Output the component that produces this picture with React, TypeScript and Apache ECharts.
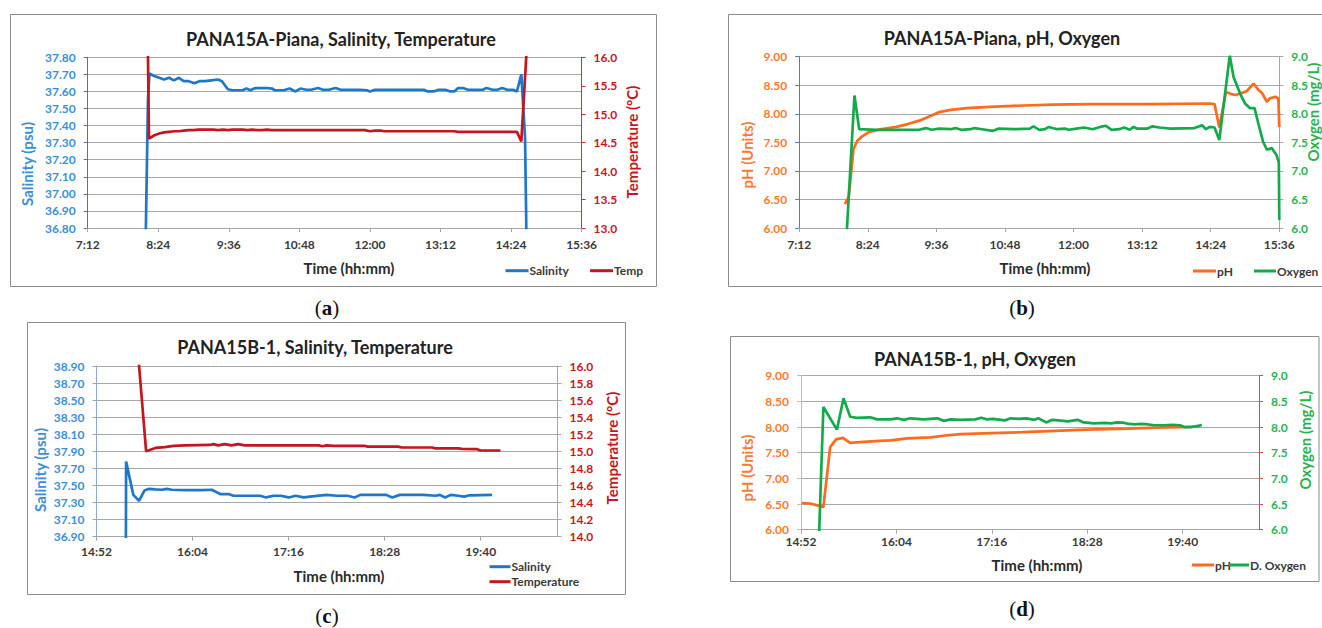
import React, { useEffect, useRef } from "react";
import * as echarts from "echarts";

// ---------- DATA (time = minutes after midnight, value) ----------
// Panel (a) PANA15A-Piana, salinity (psu) & temperature (°C)
const aSalinity: number[][] = [
  [490.5, 36.5], [493.5, 37.55], [495, 37.705], [500, 37.69], [505, 37.68], [510, 37.67], [515, 37.68],
  [520, 37.665], [525, 37.68], [530, 37.66], [535, 37.66], [541, 37.648], [546, 37.66], [552, 37.66],
  [558, 37.665], [565, 37.67], [569, 37.66], [575, 37.613], [580, 37.607], [585, 37.607], [590, 37.607],
  [594, 37.617], [598, 37.607], [603, 37.62], [608, 37.62], [615, 37.62], [620, 37.617], [623, 37.607],
  [632, 37.607], [638, 37.617], [644, 37.60], [649, 37.617], [655, 37.61], [660, 37.61], [667, 37.62],
  [672, 37.61], [678, 37.61], [685, 37.62], [690, 37.61], [700, 37.61], [710, 37.61], [717, 37.607],
  [720, 37.60], [725, 37.61], [735, 37.61], [745, 37.61], [755, 37.61], [765, 37.61], [775, 37.61],
  [779, 37.60], [785, 37.60], [790, 37.61], [797, 37.61], [802, 37.60], [806, 37.60], [810, 37.62],
  [815, 37.62], [820, 37.61], [830, 37.61], [835, 37.61], [839, 37.62], [845, 37.61], [850, 37.61],
  [855, 37.62], [860, 37.61], [866, 37.61], [870, 37.60], [874.5, 37.70], [878.3, 37.33], [880.3, 36.5],
];
const aTemp: number[][] = [
  [492.5, 17.5], [494.5, 14.57], [500, 14.63], [505, 14.66], [510, 14.68], [515, 14.69], [520, 14.70],
  [525, 14.70], [530, 14.71], [535, 14.72], [540, 14.72], [545, 14.73], [550, 14.73], [555, 14.73],
  [560, 14.73], [565, 14.72], [570, 14.73], [575, 14.72], [580, 14.73], [585, 14.73], [590, 14.73],
  [595, 14.72], [600, 14.73], [605, 14.72], [610, 14.72], [615, 14.73], [620, 14.72], [630, 14.72],
  [640, 14.72], [650, 14.72], [660, 14.72], [670, 14.72], [680, 14.72], [690, 14.72], [700, 14.72],
  [710, 14.72], [715, 14.72], [720, 14.70], [725, 14.71], [731, 14.71], [735, 14.70], [750, 14.70],
  [765, 14.70], [780, 14.70], [795, 14.70], [806, 14.70], [810, 14.69], [825, 14.69], [840, 14.69],
  [855, 14.69], [870, 14.69], [874.5, 14.52], [880.5, 16.3],
];

// Panel (b) PANA15A-Piana, pH (units) & oxygen (mg/L)
const bPH: number[][] = [
  [480, 6.42], [484, 6.55], [489, 7.38], [493, 7.53], [497, 7.59], [505, 7.68], [517, 7.73], [534, 7.77],
  [546, 7.82], [558, 7.88], [571, 7.97], [579, 8.03], [591, 8.07], [608, 8.10], [632, 8.12], [657, 8.14],
  [698, 8.16], [739, 8.17], [800, 8.17], [863, 8.18], [868, 8.17], [873, 7.76], [880, 8.38], [885, 8.35],
  [890, 8.33], [896, 8.36], [902, 8.40], [909, 8.53], [914, 8.42], [918, 8.36], [923, 8.21], [926, 8.27],
  [932, 8.30], [935, 8.27], [936, 7.77],
];
const bOxygen: number[][] = [
  [482, 5.95], [490, 8.32], [495, 7.73], [513, 7.72], [534, 7.72], [558, 7.72], [565, 7.75], [571, 7.72],
  [579, 7.74], [591, 7.73], [596, 7.75], [602, 7.72], [612, 7.73], [616, 7.75], [624, 7.73], [635, 7.70],
  [641, 7.74], [657, 7.73], [674, 7.74], [678, 7.78], [684, 7.72], [690, 7.73], [694, 7.77], [703, 7.73],
  [711, 7.74], [715, 7.72], [723, 7.74], [731, 7.76], [740, 7.73], [748, 7.77], [754, 7.79], [760, 7.72],
  [768, 7.73], [773, 7.76], [779, 7.72], [783, 7.77], [787, 7.74], [797, 7.74], [803, 7.78], [810, 7.76],
  [822, 7.74], [847, 7.75], [855, 7.80], [859, 7.73], [863, 7.77], [868, 7.76], [873, 7.54], [884, 9.02],
  [888, 8.64], [895, 8.35], [900, 8.18], [905, 8.10], [910, 8.10], [914, 7.83], [919, 7.51], [923, 7.37],
  [928, 7.40], [933, 7.28], [935.5, 7.15], [936, 6.14],
];

// Panel (c) PANA15B-1, salinity (psu) & temperature (°C)
const cSalinity: number[][] = [
  [914.8, 36.7], [915, 37.78], [920.4, 37.39], [924.7, 37.32], [928.7, 37.44], [931.7, 37.46], [936.7, 37.455],
  [941.8, 37.45], [945.5, 37.46], [949.3, 37.45], [959.2, 37.445], [966, 37.445], [972, 37.445],
  [979.3, 37.45], [985.5, 37.40], [991.8, 37.40], [995.5, 37.38], [1005, 37.38], [1015.6, 37.38],
  [1019.9, 37.36], [1025.6, 37.38], [1031, 37.38], [1036.9, 37.36], [1042, 37.38], [1048.1, 37.36],
  [1053, 37.37], [1065.1, 37.39], [1073, 37.38], [1081, 37.38], [1086.3, 37.36], [1090.5, 37.39],
  [1110, 37.39], [1114.5, 37.36], [1120.2, 37.39], [1138, 37.39], [1147, 37.38], [1150.2, 37.39],
  [1154.1, 37.36], [1158.4, 37.39], [1164, 37.38], [1168.3, 37.37], [1172.5, 37.385], [1189.4, 37.39],
];
const cTemp: number[][] = [
  [920, 16.9], [930, 15.0], [937, 15.04], [944, 15.05], [950.5, 15.065], [959, 15.07], [978, 15.075],
  [980.5, 15.085], [984, 15.07], [989, 15.085], [994, 15.07], [999, 15.085], [1004, 15.07], [1059.5, 15.07],
  [1062.3, 15.06], [1065.1, 15.07], [1070.7, 15.065], [1093.4, 15.065], [1096.2, 15.055], [1118.8, 15.055],
  [1121.6, 15.045], [1144.2, 15.045], [1147, 15.035], [1164, 15.035], [1166.8, 15.03], [1178.1, 15.025],
  [1180.9, 15.01], [1195.6, 15.01],
];

// Panel (d) PANA15B-1, pH (units) & dissolved oxygen (mg/L)
const dPH: number[][] = [
  [893.3, 6.52], [899.6, 6.51], [905.9, 6.47], [909.7, 6.44], [914.8, 7.61], [919.3, 7.76], [924.4, 7.79],
  [929.9, 7.69], [940, 7.71], [952.7, 7.73], [960.3, 7.74], [972.9, 7.78], [990.6, 7.80], [1003.2, 7.84],
  [1013.3, 7.86], [1036, 7.88], [1060, 7.90], [1080, 7.92], [1108, 7.95], [1140, 7.97], [1160, 7.99],
  [1180, 8.00], [1194, 8.01],
];
const dOxygen: number[][] = [
  [906.3, 5.8], [909.7, 8.39], [919.9, 7.95], [924.9, 8.56], [929.9, 8.20], [935, 8.18], [945.1, 8.19],
  [950.2, 8.15], [960.3, 8.15], [965.3, 8.17], [970.4, 8.14], [975.4, 8.17], [985.5, 8.15], [995.6, 8.17],
  [1000.6, 8.12], [1005.7, 8.15], [1013.3, 8.14], [1024.3, 8.15], [1028.8, 8.18], [1033.2, 8.15],
  [1037.7, 8.16], [1046.6, 8.13], [1051.1, 8.17], [1057, 8.16], [1063, 8.17], [1068.9, 8.14], [1071.9, 8.17],
  [1077.8, 8.09], [1082.3, 8.14], [1086.8, 8.13], [1094.2, 8.11], [1101.6, 8.14], [1106.1, 8.09],
  [1110.5, 8.08], [1113.5, 8.07], [1122.4, 8.08], [1126.9, 8.07], [1131.3, 8.09], [1135.8, 8.085],
  [1140.3, 8.06], [1144.7, 8.05], [1149.2, 8.06], [1155.1, 8.05], [1159.6, 8.035], [1167, 8.035],
  [1173, 8.045], [1178.9, 8.035], [1181.9, 8.0], [1187.8, 8.0], [1195.3, 8.04],
];

// Axis ranges (time axis start in minutes, span in minutes; tick step 72 min)
const timeStartAB = 432; // 7:12
const timeSpanAB = 504; // to 15:36
const timeStartCD = 892.8; // 14:52
const timeSpanCD = 345.6; // to 20:38
const tickStep = 72;
const ticksAB = [0, 72, 144, 216, 288, 360, 432, 504];
const ticksCD = [0, 72, 144, 216, 288];

const titles = [
  "PANA15A-Piana, Salinity, Temperature",
  "PANA15A-Piana, pH, Oxygen",
  "PANA15B-1, Salinity, Temperature",
  "PANA15B-1, pH, Oxygen",
];

// ---------- STYLE ----------
const FONT = "Lato";
const C_SAL = "#1f77c9";
const C_SAL_TXT = "#3a8fd8";
const C_TEMP = "#c3161e";
const C_TEMP_TXT = "#c8161e";
const C_PH = "#ff6a1c";
const C_PH_TXT = "#fb7a2e";
const C_OX = "#13aa4b";
const C_OX_TXT = "#2bb24f";
const GRID = "#a8a8a8";
const AX = "#a6a6a6";

const fmtTime = (base: number) => (v: number) => {
  const m = base + v + 1e-6;
  const h = Math.floor(m / 60);
  const mm = Math.floor(m - h * 60);
  return `${h}:${String(mm).padStart(2, "0")}`;
};

const shift = (arr: number[][], tb: number, vb: number) => arr.map(([t, v]) => [t - tb, v - vb]);

function xAx(gridIndex: number, span: number, base: number, ticks: number[], lineColor: string, margin: number) {
  return {
    type: "value",
    gridIndex,
    min: 0,
    max: span,
    interval: tickStep,
    axisLine: { show: true, onZero: false, lineStyle: { color: lineColor, width: 1 } },
    axisTick: { show: true, length: 4, inside: false, customValues: ticks, lineStyle: { color: lineColor } },
    axisLabel: {
      customValues: ticks,
      showMaxLabel: true,
      formatter: fmtTime(base),
      color: "#3a3a3a",
      fontFamily: FONT,
      fontWeight: "bold",
      fontSize: 12,
      margin,
    },
    splitLine: { show: false },
  };
}

function yAx(
  gridIndex: number,
  position: string,
  min: number,
  max: number,
  interval: number,
  fmt: (v: number) => string,
  labelColor: string,
  lineColor: string,
  split: boolean
) {
  return {
    type: "value",
    gridIndex,
    position,
    min,
    max,
    interval,
    axisLine: { show: true, onZero: false, lineStyle: { color: lineColor, width: 1 } },
    axisTick: { show: true, length: 4, inside: false, lineStyle: { color: lineColor } },
    axisLabel: { formatter: fmt, color: labelColor, fontFamily: FONT, fontWeight: "bold", fontSize: 12, margin: 12 },
    splitLine: { show: split, lineStyle: { color: GRID, width: 1 } },
  };
}

function line(name: string, xi: number, yi: number, data: number[][], color: string) {
  return {
    name,
    type: "line",
    xAxisIndex: xi,
    yAxisIndex: yi,
    data,
    symbol: "none",
    showSymbol: false,
    clip: true,
    silent: true,
    lineStyle: { width: 2.7, color },
    itemStyle: { color },
  };
}

function txt(x: number, y: number, text: string, size: number, fill: string, align = "center", rotation = 0) {
  return {
    type: "text",
    x,
    y,
    rotation,
    silent: true,
    style: { text, font: `bold ${size}px ${FONT}`, fill, align, verticalAlign: "middle" },
  };
}

function legendItem(x: number, y: number, len: number, color: string, label: string) {
  return [
    { type: "line", silent: true, shape: { x1: x, y1: y, x2: x + len, y2: y }, style: { stroke: color, lineWidth: 3 } },
    txt(x + len + 1, y, label, 12, "#3a3a3a", "left"),
  ];
}

function caption(x: number, y: number, letter: string) {
  return {
    type: "text",
    x,
    y,
    silent: true,
    style: {
      text: `{n|(}{b|${letter}}{n|)}`,
      align: "center",
      verticalAlign: "middle",
      rich: {
        n: { fontFamily: "Liberation Serif", fontSize: 21, fill: "#111", color: "#111" },
        b: { fontFamily: "Liberation Serif", fontSize: 21, fontWeight: "bold", fill: "#111", color: "#111" },
      },
    },
  };
}

function frame(x: number, y: number, w: number, h: number) {
  return { type: "rect", silent: true, shape: { x, y, width: w, height: h }, style: { fill: "none", stroke: "#8c8c8c", lineWidth: 1 } };
}

export default function App() {
  const ref = useRef<HTMLDivElement>(null);
  useEffect(() => {
    document.body.style.margin = "0";
    if (!ref.current) return;
    const chart = echarts.init(ref.current, null, { renderer: "svg" });
    const R = Math.PI / 2;
    const option = {
      animation: false,
      backgroundColor: "#ffffff",
      grid: [
        { left: 87.7, top: 57.3, width: 493.9, height: 170.7 },
        { left: 799.2, top: 56.7, width: 480.1, height: 171.3 },
        { left: 96.5, top: 366, width: 461, height: 170.7 },
        { left: 801, top: 375.7, width: 458, height: 154 },
      ],
      xAxis: [
        xAx(0, timeSpanAB, timeStartAB, ticksAB, AX, 10),
        xAx(1, timeSpanAB, timeStartAB, ticksAB, AX, 10),
        xAx(2, timeSpanCD, timeStartCD, ticksCD, AX, 9),
        xAx(3, timeSpanCD, timeStartCD, ticksCD, AX, 6),
      ],
      yAxis: [
        yAx(0, "left", 0, 1, 0.1, (v) => (36.8 + v).toFixed(2), C_SAL_TXT, "#56739f", true),
        yAx(0, "right", 13, 16, 0.5, (v) => v.toFixed(1), C_TEMP_TXT, "#d23030", false),
        yAx(1, "left", 6, 9, 0.5, (v) => v.toFixed(2), C_PH_TXT, "#4f7fbc", true),
        yAx(1, "right", 6, 9, 0.5, (v) => v.toFixed(1), C_OX_TXT, AX, false),
        yAx(2, "left", 0, 2, 0.2, (v) => (36.9 + v).toFixed(2), C_SAL_TXT, "#8fa9cc", true),
        yAx(2, "right", 14, 16, 0.2, (v) => v.toFixed(1), C_TEMP_TXT, AX, false),
        yAx(3, "left", 6, 9, 0.5, (v) => v.toFixed(2), C_PH_TXT, "#bdbdbd", true),
        yAx(3, "right", 6, 9, 0.5, (v) => v.toFixed(1), C_OX_TXT, "#e04848", false),
      ],
      series: [
        line("Salinity", 0, 0, shift(aSalinity, timeStartAB, 36.8), C_SAL),
        line("Temp", 0, 1, shift(aTemp, timeStartAB, 0), C_TEMP),
        line("pH", 1, 2, shift(bPH, timeStartAB, 0), C_PH),
        line("Oxygen", 1, 3, shift(bOxygen, timeStartAB, 0), C_OX),
        line("Salinity (c)", 2, 4, shift(cSalinity, timeStartCD, 36.9), C_SAL),
        line("Temperature", 2, 5, shift(cTemp, timeStartCD, 0), C_TEMP),
        line("pH (d)", 3, 6, shift(dPH, timeStartCD, 0), C_PH),
        line("D. Oxygen", 3, 7, shift(dOxygen, timeStartCD, 0), C_OX),
      ],
      graphic: [
        frame(10.5, 14.5, 646, 272),
        frame(728.5, 14.5, 620, 272),
        frame(27.5, 322.5, 598, 272),
        frame(730.5, 336.5, 588.5, 245),
        txt(341, 39, titles[0], 18, "#222"),
        txt(1002, 37.5, titles[1], 18, "#222"),
        txt(315, 347, titles[2], 18, "#222"),
        txt(975, 358.5, titles[3], 18, "#222"),
        // axis titles
        txt(27, 164, "Salinity (psu)", 15, C_SAL_TXT, "center", R),
        txt(632, 142, "Temperature (°C)", 15, C_TEMP_TXT, "center", R),
        txt(349, 268, "Time (hh:mm)", 15, "#2a2a2a"),
        txt(746.5, 155, "pH (Units)", 15, C_PH_TXT, "center", R),
        txt(1313, 112, "Oxygen (mg/L)", 15, C_OX_TXT, "center", R),
        txt(1045, 268, "Time (hh:mm)", 15, "#2a2a2a"),
        txt(40, 470, "Salinity (psu)", 15, C_SAL_TXT, "center", R),
        txt(612, 448, "Temperature (°C)", 15, C_TEMP_TXT, "center", R),
        txt(339, 576, "Time (hh:mm)", 15, "#2a2a2a"),
        txt(747, 468, "pH (Units)", 15, C_PH_TXT, "center", R),
        txt(1305, 440, "Oxygen (mg/L)", 15, C_OX_TXT, "center", R),
        txt(1037, 565, "Time (hh:mm)", 15, "#2a2a2a"),
        // legends
        ...legendItem(505.5, 270.7, 23, C_SAL, "Salinity"),
        ...legendItem(590, 270.7, 23, C_TEMP, "Temp"),
        ...legendItem(1193, 271, 23, C_PH, "pH"),
        ...legendItem(1254, 271, 22, C_OX, "Oxygen"),
        ...legendItem(489.5, 566.7, 21, C_SAL, "Salinity"),
        ...legendItem(489.5, 581.7, 21, C_TEMP, "Temperature"),
        ...legendItem(1192, 565, 22, C_PH, "pH"),
        ...legendItem(1229, 565, 20, C_OX, "D. Oxygen"),
        // panel captions
        caption(327, 308, "a"),
        caption(1022, 308, "b"),
        caption(327, 616, "c"),
        caption(1022, 609, "d"),
      ],
    };
    chart.setOption(option as any);
    return () => chart.dispose();
  }, []);
  return <div ref={ref} style={{ width: 1322, height: 628 }} />;
}
